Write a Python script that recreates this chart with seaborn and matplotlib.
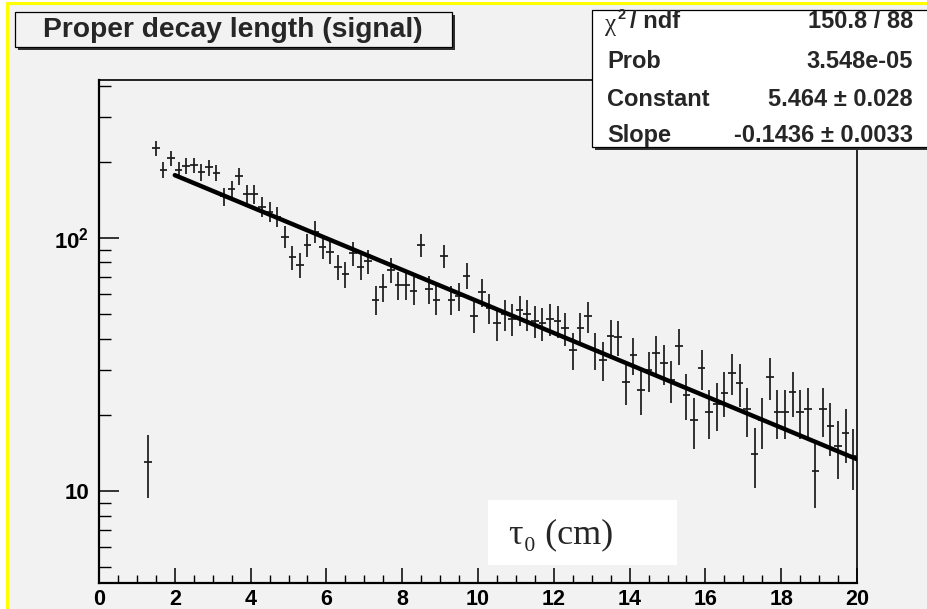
import numpy as np
import pandas as pd
import matplotlib
matplotlib.use("Agg")
import matplotlib.pyplot as plt
import seaborn as sns
from matplotlib.patches import Rectangle
from matplotlib.lines import Line2D
from matplotlib.ticker import FixedLocator, NullFormatter, FixedFormatter

# ---------------- data ----------------
bin_centers = [1.3, 1.5, 1.7, 1.9, 2.1, 2.3, 2.5, 2.7, 2.9, 3.1,
               3.3, 3.5, 3.7, 3.9, 4.1, 4.3, 4.5, 4.7, 4.9, 5.1,
               5.3, 5.5, 5.7, 5.9, 6.1, 6.3, 6.5, 6.7, 6.9, 7.1,
               7.3, 7.5, 7.7, 7.9, 8.1, 8.3, 8.5, 8.7, 8.9, 9.1,
               9.3, 9.5, 9.7, 9.9, 10.1, 10.3, 10.5, 10.7, 10.9, 11.1,
               11.3, 11.5, 11.7, 11.9, 12.1, 12.3, 12.5, 12.7, 12.9, 13.1,
               13.3, 13.5, 13.7, 13.9, 14.1, 14.3, 14.5, 14.7, 14.9, 15.1,
               15.3, 15.5, 15.7, 15.9, 16.1, 16.3, 16.5, 16.7, 16.9, 17.1,
               17.3, 17.5, 17.7, 17.9, 18.1, 18.3, 18.5, 18.7, 18.9, 19.1,
               19.3, 19.5, 19.7, 19.9]
counts = [13, 226, 186, 207, 186, 193, 194, 182, 190, 181,
          146, 156, 175, 149, 149, 133, 127, 121, 101, 84,
          78, 94, 106, 92, 88, 77, 72, 87, 77, 81,
          57, 64, 75, 65, 65, 62, 94, 63, 57, 85,
          57, 59, 71, 49, 61, 53, 46, 50, 48, 52,
          50, 47, 46, 48, 47, 44, 36, 44, 49, 36,
          33, 41, 40.5, 27, 34.5, 25, 30, 35, 32, 27.5,
          37.5, 24, 19, 30.5, 20.6, 22, 24.5, 29.4, 26.7, 21,
          14, 19, 28.3, 20.6, 20.6, 24.6, 20.6, 21, 12, 21,
          18, 15, 17, 13.8]
bin_half_width = 0.1

fit_constant = 5.464
fit_slope = -0.1436
fit_range = [2.0, 20.0]

title_text = "Proper decay length (signal)"
stats_labels = ["Prob", "Constant", "Slope"]
stats_values = ["150.8 / 88", "3.548e-05", "5.464 \u00b1 0.028", "-0.1436 \u00b1 0.0033"]
x_label = "\u03c4\u2080 (cm)"
x_ticks = [0, 2, 4, 6, 8, 10, 12, 14, 16, 18, 20]
y_ticks = [10, 100]
y_tick_labels = ["10", r"$\mathbf{10^{2}}$"]

# ---------------- figure ----------------
W, H = 927, 609
sns.set_theme(style="white")
plt.rcParams["font.family"] = ["Liberation Sans", "DejaVu Sans"]
plt.rcParams["mathtext.fontset"] = "custom"
plt.rcParams["mathtext.rm"] = "Liberation Sans"
plt.rcParams["mathtext.bf"] = "Liberation Sans:bold"
plt.rcParams["mathtext.it"] = "Liberation Sans:italic"

fig = plt.figure(figsize=(W / 100, H / 100), dpi=100)
fig.patch.set_facecolor("#f2f2f2")


def fx(px):
    return px / W


def fy(py):
    return 1 - py / H


# white margin outside the highlighted pad + yellow border
fig.patches.append(Rectangle((0, 0), fx(6), 1, transform=fig.transFigure,
                             facecolor="white", edgecolor="none", zorder=8))
fig.patches.append(Rectangle((0, fy(2)), 1, 2 / H, transform=fig.transFigure,
                             facecolor="white", edgecolor="none", zorder=8))
fig.lines.append(Line2D([fx(7), fx(7)], [0, fy(3)], transform=fig.transFigure,
                        color="#ffff00", lw=2.2, zorder=9))
fig.lines.append(Line2D([fx(7), 1], [fy(3), fy(3)], transform=fig.transFigure,
                        color="#ffff00", lw=2.2, zorder=9))

left, right, top, bottom = 99, 857, 80, 583
ax = fig.add_axes([fx(left), fy(bottom), fx(right - left), (bottom - top) / H])
ax.set_facecolor("#f2f2f2")
ax.set_zorder(1)

df = pd.DataFrame({"x": bin_centers, "y": counts})
df["yerr"] = np.sqrt(df["y"])

ax.errorbar(df["x"], df["y"], xerr=bin_half_width, yerr=df["yerr"], fmt="none",
            ecolor="#1a1a1a", elinewidth=1.25, capsize=0, zorder=3)

fit_x = np.linspace(fit_range[0], fit_range[1], 100)
fit_df = pd.DataFrame({"x": fit_x, "y": np.exp(fit_constant + fit_slope * fit_x)})
sns.lineplot(data=fit_df, x="x", y="y", ax=ax, color="black", lw=3.2, zorder=4)

ax.set_yscale("log")
ax.set_xlim(0, 20)
ax.set_ylim(4.33, 421)
ax.set_xlabel("")
ax.set_ylabel("")

ax.xaxis.set_major_locator(FixedLocator(x_ticks))
ax.xaxis.set_minor_locator(FixedLocator([v * 0.5 for v in range(41) if v % 4 != 0]))
ax.yaxis.set_major_locator(FixedLocator(y_ticks))
ax.yaxis.set_major_formatter(FixedFormatter(y_tick_labels))
minor_y = [m * 10 ** e for e in (0, 1, 2) for m in range(2, 10)]
ax.yaxis.set_minor_locator(FixedLocator(minor_y))
ax.yaxis.set_minor_formatter(NullFormatter())

ax.tick_params(axis="x", which="major", direction="in", length=10.5, width=1.1,
               color="black", labelsize=15.5, pad=4.5, bottom=True, top=False)
ax.tick_params(axis="x", which="minor", direction="in", length=5.5, width=1.0,
               color="black", bottom=True, top=False)
ax.tick_params(axis="y", which="major", direction="in", length=14.5, width=1.1,
               color="black", labelsize=16, pad=7, left=True, right=False)
ax.tick_params(axis="y", which="minor", direction="in", length=8.5, width=1.0,
               color="black", left=True, right=False)
for lab in ax.get_xticklabels() + ax.get_yticklabels():
    lab.set_fontweight("bold")
    lab.set_color("black")

for side, sp in ax.spines.items():
    sp.set_visible(True)
    sp.set_color("black")
    sp.set_linewidth(1.6 if side in ("left", "bottom") else 1.2)

# title box with shadow
fig.patches.append(Rectangle((fx(18), fy(50)), fx(437), 35 / H, transform=fig.transFigure,
                             facecolor="#303030", edgecolor="none", zorder=5))
fig.patches.append(Rectangle((fx(15), fy(47)), fx(437), 35 / H, transform=fig.transFigure,
                             facecolor="#f2f2f2", edgecolor="black", lw=0.9, zorder=6))
fig.text(fx(233), fy(30), title_text, ha="center", va="center", fontsize=20.3,
         fontweight="bold", zorder=7)

# stats box with shadow
fig.patches.append(Rectangle((fx(595), fy(150)), 1 - fx(595), 140 / H, transform=fig.transFigure,
                             facecolor="#303030", edgecolor="none", zorder=5))
fig.patches.append(Rectangle((fx(592), fy(147)), 1 - fx(592) + 0.01, 137 / H,
                             transform=fig.transFigure, facecolor="white",
                             edgecolor="black", lw=0.9, zorder=6))
row_y = [22, 61, 99, 135]
# first row: chi^2 / ndf (upright greek chi as in ROOT's Symbol font)
fig.text(fx(605), fy(row_y[0] + 3), "\u03c7", ha="left", va="center", fontsize=18,
         family=["Liberation Serif", "DejaVu Serif"], zorder=7)
fig.text(fx(618), fy(row_y[0] - 7), "2", ha="left", va="center", fontsize=10.5,
         fontweight="bold", zorder=7)
fig.text(fx(630), fy(row_y[0]), "/ ndf", ha="left", va="center", fontsize=17,
         fontweight="bold", zorder=7)
for lab, yy in zip(stats_labels, row_y[1:]):
    fig.text(fx(607), fy(yy), lab, ha="left", va="center", fontsize=17,
             fontweight="bold", zorder=7)
for val, yy in zip(stats_values, row_y):
    fig.text(fx(913), fy(yy), val, ha="right", va="center", fontsize=17,
             fontweight="bold", zorder=7)

# tau label in white box
fig.patches.append(Rectangle((fx(488), fy(565)), fx(189), 65 / H, transform=fig.transFigure,
                             facecolor="white", edgecolor="none", zorder=6))
fig.text(fx(561), fy(535), x_label, ha="center", va="center", fontsize=26,
         family=["Liberation Serif", "DejaVu Serif"], zorder=7)

fig.savefig("out.png", dpi=100, facecolor=fig.get_facecolor())
